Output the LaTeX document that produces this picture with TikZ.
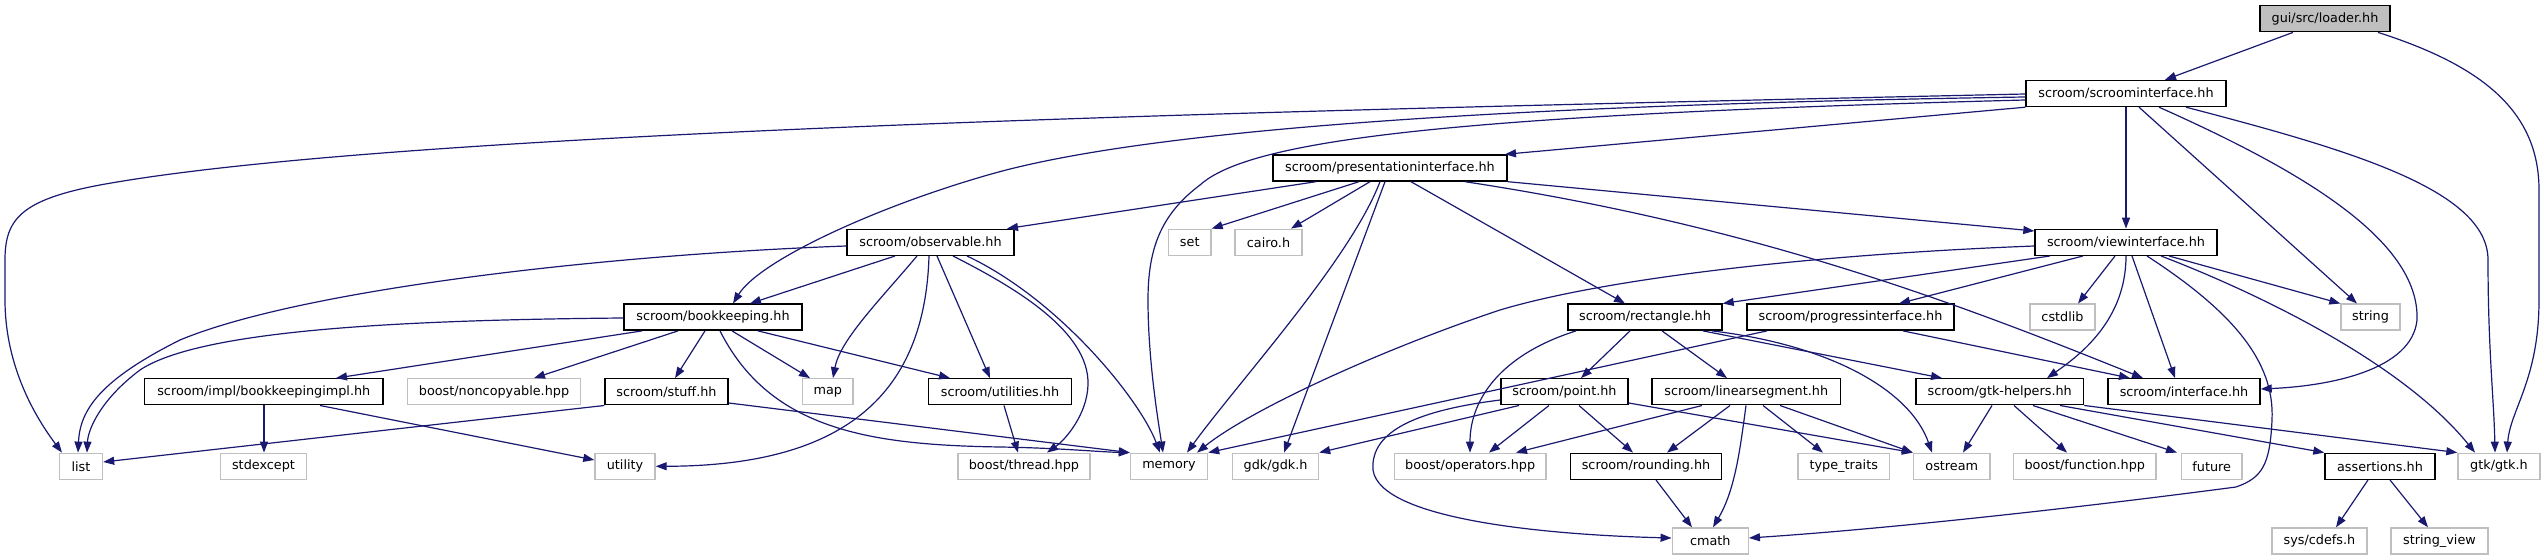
\documentclass[tikz,border=0pt]{standalone}
\usepackage{fontspec}
\setmainfont{DejaVu Sans}
\usetikzlibrary{arrows.meta}
\definecolor{edgeblue}{HTML}{191970}
\definecolor{greyseven}{HTML}{BFBFBF}
\tikzset{
  box/.style={draw=black, line width=0.7pt, rectangle, minimum height=13pt, inner sep=0pt, fill=white, font=\fontsize{6.4pt}{7.5pt}\selectfont},
  sysbox/.style={box, draw=greyseven},
  rootbox/.style={box, fill=greyseven},
  edge/.style={draw=edgeblue, line width=0.6pt, -{Triangle[length=5.5pt,width=4pt]}}
}
\begin{document}
\begin{tikzpicture}[x=0.5pt,y=-0.5pt]
\path[use as bounding box] (0,0) rectangle (2544,560);
% row 0
\node[rootbox, minimum width=65pt] (loader) at (2325,18.7) {gui/src/loader.hh};
% row 1
\node[box, minimum width=100pt] (scroom) at (2126,93.5) {scroom/scroominterface.hh};
% row 2
\node[box, minimum width=117pt] (pres) at (1390,168) {scroom/presentationinterface.hh};
% row 3
\node[box, minimum width=83.5pt] (obs) at (930.5,242.3) {scroom/observable.hh};
\node[sysbox, minimum width=21.25pt] (set) at (1189.75,242.3) {set};
\node[sysbox, minimum width=33.5pt] (cairo) at (1268.5,242.3) {cairo.h};
\node[box, minimum width=91pt] (view) at (2126,242.3) {scroom/viewinterface.hh};
% row 4
\node[box, minimum width=89pt] (bk) at (713,317.2) {scroom/bookkeeping.hh};
\node[box, minimum width=77pt] (rect) at (1645,317.2) {scroom/rectangle.hh};
\node[box, minimum width=103.5pt] (prog) at (1850.5,317.2) {scroom/progressinterface.hh};
\node[sysbox, minimum width=32.5pt] (cstdlib) at (2062.5,317.2) {cstdlib};
\node[sysbox, minimum width=29.5pt] (string) at (2370.5,317.2) {string};
% row 5
\node[box, minimum width=119.2pt] (impl) at (263.8,391.8) {scroom/impl/bookkeepingimpl.hh};
\node[sysbox, minimum width=86.65pt] (noncopy) at (494,391.8) {boost/noncopyable.hpp};
\node[box, minimum width=61.5pt] (stuff) at (666.5,391.8) {scroom/stuff.hh};
\node[sysbox, minimum width=25.25pt] (map) at (827.75,391.8) {map};
\node[box, minimum width=71.5pt] (utilities) at (1000,391.8) {scroom/utilities.hh};
\node[box, minimum width=63.5pt] (point) at (1564.5,391.8) {scroom/point.hh};
\node[box, minimum width=94.25pt] (linseg) at (1746.25,391.8) {scroom/linearsegment.hh};
\node[box, minimum width=83.75pt] (gtkhelp) at (1999.75,391.8) {scroom/gtk-helpers.hh};
\node[box, minimum width=76pt] (iface) at (2184,391.8) {scroom/interface.hh};
% row 6
\node[sysbox, minimum width=21.5pt] (list) at (81,466.3) {list};
\node[sysbox, minimum width=43pt] (stdexcept) at (263.5,466.3) {stdexcept};
\node[sysbox, minimum width=30pt] (utility) at (625,466.3) {utility};
\node[sysbox, minimum width=66.1pt] (thread) at (1023.9,466.3) {boost/thread.hpp};
\node[sysbox, minimum width=38.5pt] (memory) at (1169,466.3) {memory};
\node[sysbox, minimum width=42.9pt] (gdk) at (1275.6,466.3) {gdk/gdk.h};
\node[sysbox, minimum width=75.8pt] (operators) at (1470.2,466.3) {boost/operators.hpp};
\node[box, minimum width=75.5pt] (rounding) at (1646,466.3) {scroom/rounding.hh};
\node[sysbox, minimum width=45.75pt] (tt) at (1843.75,466.3) {type\_traits};
\node[sysbox, minimum width=38.25pt] (ostream) at (1951.75,466.3) {ostream};
\node[sysbox, minimum width=71.2pt] (function) at (2084.8,466.3) {boost/function.hpp};
\node[sysbox, minimum width=30.25pt] (future) at (2211.75,466.3) {future};
\node[box, minimum width=55pt] (assertions) at (2380,466.3) {assertions.hh};
\node[sysbox, minimum width=41pt] (gtk) at (2499,466.3) {gtk/gtk.h};
% row 7
\node[sysbox, minimum width=38pt] (cmath) at (1710.25,541) {cmath};
\node[sysbox, minimum width=47.5pt] (cdefs) at (2319.5,541) {sys/cdefs.h};
\node[sysbox, minimum width=48.5pt] (sv) at (2439.5,541) {string\_view};

% edges from loader
\draw[edge] (loader.south -| 2293,0) -- (scroom.north -| 2165,0);
\draw[edge] (loader.south -| 2378,0) .. controls (2480,65) and (2539,110) .. (2539,190) -- (2539,300) .. controls (2539,380) and (2510,410) .. (gtk.north -| 2507,0);
% edges from scroominterface
\draw[edge] (scroom.west |- 0,94) .. controls (1300,110) and (400,130) .. (100,185) .. controls (20,200) and (5,220) .. (5,260) -- (5,300) .. controls (5,360) and (30,410) .. (list.north -| 62,0);
\draw[edge] (scroom.west |- 0,100) .. controls (1450,115) and (1250,140) .. (1200,185) .. controls (1160,215) and (1148,250) .. (1148,300) .. controls (1148,360) and (1158,420) .. (memory.north -| 1163,0);
\draw[edge] (scroom.west |- 0,97) .. controls (1500,105) and (1150,130) .. (995,173) .. controls (880,205) and (760,260) .. (bk.north -| 733,0);
\draw[edge] (scroom.south west) -- (pres.north -| 1505,0);
\draw[edge] (scroom.south) -- (view.north);
\draw[edge] (scroom.south -| 2139,0) -- (string.north -| 2357,0);
\draw[edge] (scroom.south -| 2159,0) .. controls (2300,170) and (2420,240) .. (2417,320) .. controls (2412,370) and (2330,386) .. (iface.east |- 0,389);
\draw[edge] (scroom.south -| 2186,0) .. controls (2350,150) and (2488,190) .. (2488,260) .. controls (2488,350) and (2494,400) .. (gtk.north -| 2495,0);
% edges from presentationinterface
\draw[edge] (pres.south -| 1316,0) -- (obs.north -| 1007,0);
\draw[edge] (pres.south -| 1359,0) -- (set.north east);
\draw[edge] (pres.south -| 1370,0) -- (cairo.north -| 1291,0);
\draw[edge] (pres.south -| 1385,0) -- (gdk.north -| 1284,0);
\draw[edge] (pres.south -| 1380,0) .. controls (1350,260) and (1240,380) .. (memory.north -| 1187,0);
\draw[edge] (pres.south -| 1411,0) -- (rect.north -| 1625,0);
\draw[edge] (pres.south east) -- (view.west |- 0,231);
\draw[edge] (pres.south -| 1465,0) .. controls (1750,225) and (1950,300) .. (iface.north -| 2143,0);
% edges from observable
\draw[edge] (obs.west |- 0,246) .. controls (600,255) and (300,290) .. (180,340) .. controls (100,380) and (80,410) .. (list.north -| 78,0);
\draw[edge] (obs.south -| 895,0) -- (bk.north -| 750,0);
\draw[edge] (obs.south -| 917,0) .. controls (880,300) and (840,340) .. (map.north -| 833,0);
\draw[edge] (obs.south -| 929,0) .. controls (925,390) and (850,466) .. (utility.east);
\draw[edge] (obs.south -| 937,0) -- (utilities.north -| 990,0);
\draw[edge] (obs.south -| 953,0) .. controls (1010,285) and (1090,330) .. (1088,385) .. controls (1087,415) and (1065,440) .. (thread.north -| 1047,0);
\draw[edge] (obs.south -| 967,0) .. controls (1060,300) and (1140,400) .. (memory.north -| 1160,0);
% edges from bookkeeping
\draw[edge] (bk.west |- 0,318) .. controls (400,320) and (200,330) .. (140,370) .. controls (100,400) and (88,430) .. (list.north -| 87,0);
\draw[edge] (bk.south -| 642,0) -- (impl.north -| 336,0);
\draw[edge] (bk.south -| 678,0) -- (noncopy.north -| 534,0);
\draw[edge] (bk.south -| 705,0) -- (stuff.north -| 675,0);
\draw[edge] (bk.south -| 732,0) -- (map.north -| 810,0);
\draw[edge] (bk.south -| 758,0) -- (utilities.north -| 950,0);
\draw[edge] (bk.south -| 720,0) .. controls (770,430) and (870,445) .. (1000,447) .. controls (1060,448) and (1100,452) .. (memory.north west);
% impl, stuff, utilities
\draw[edge] (impl.south -| 264,0) -- (stdexcept.north -| 264,0);
\draw[edge] (impl.south -| 320,0) -- (utility.west |- 0,460);
\draw[edge] (stuff.south west) -- (list.east |- 0,462);
\draw[edge] (stuff.east |- 0,403) -- (memory.north west);
\draw[edge] (utilities.south -| 1004,0) -- (thread.north -| 1018,0);
% edges from viewinterface
\draw[edge] (view.west |- 0,246) .. controls (1800,255) and (1600,280) .. (1500,310) .. controls (1380,350) and (1250,410) .. (memory.north -| 1197,0);
\draw[edge] (view.south -| 2050,0) -- (rect.north east);
\draw[edge] (view.south -| 2083,0) -- (prog.north -| 1899,0);
\draw[edge] (view.south -| 2115,0) -- (cstdlib.north -| 2078,0);
\draw[edge] (view.south -| 2126,0) .. controls (2126,320) and (2080,355) .. (gtkhelp.north -| 2047,0);
\draw[edge] (view.south -| 2132,0) -- (iface.north -| 2175,0);
\draw[edge] (view.south -| 2147,0) .. controls (2230,310) and (2275,360) .. (2272,420) .. controls (2270,465) and (2262,478) .. (2236,487) .. controls (2100,505) and (1900,528) .. (cmath.east |- 0,538);
\draw[edge] (view.south -| 2161,0) .. controls (2250,290) and (2400,360) .. (gtk.north -| 2475,0);
\draw[edge] (view.south -| 2169,0) -- (string.north west);
% edges from rectangle and progressinterface
\draw[edge] (rect.south -| 1576,0) .. controls (1500,355) and (1470,400) .. (operators.north -| 1470,0);
\draw[edge] (rect.south -| 1630,0) -- (point.north -| 1581,0);
\draw[edge] (rect.south -| 1662,0) -- (linseg.north -| 1727,0);
\draw[edge] (rect.south -| 1703,0) -- (gtkhelp.north -| 1942,0);
\draw[edge] (rect.south -| 1712,0) .. controls (1830,345) and (1910,390) .. (ostream.north -| 1932,0);
\draw[edge] (prog.south -| 1767,0) -- (memory.north east);
\draw[edge] (prog.south -| 1903,0) -- (iface.north -| 2130,0);
% edges from point
\draw[edge] (point.south -| 1519,0) -- (gdk.north east);
\draw[edge] (point.south -| 1549,0) -- (operators.north -| 1489,0);
\draw[edge] (point.south -| 1579,0) -- (rounding.north -| 1633,0);
\draw[edge] (point.west |- 0,400) .. controls (1420,410) and (1370,430) .. (1373,470) .. controls (1380,520) and (1550,535) .. (cmath.west |- 0,538);
\draw[edge] (point.east |- 0,403) -- (ostream.north west);
% edges from linearsegment
\draw[edge] (linseg.south -| 1702,0) -- (operators.north -| 1516,0);
\draw[edge] (linseg.south -| 1730,0) -- (rounding.north -| 1667,0);
\draw[edge] (linseg.south -| 1746,0) .. controls (1740,450) and (1735,490) .. (cmath.north -| 1713,0);
\draw[edge] (linseg.south -| 1763,0) -- (tt.north -| 1823,0);
\draw[edge] (linseg.south -| 1780,0) -- (ostream.north west);
% edges from gtk-helpers
\draw[edge] (gtkhelp.south -| 1992,0) -- (ostream.north -| 1963,0);
\draw[edge] (gtkhelp.south -| 2014,0) -- (function.north -| 2067,0);
\draw[edge] (gtkhelp.south -| 2033,0) -- (future.north -| 2177,0);
\draw[edge] (gtkhelp.south -| 2060,0) -- (assertions.north west);
\draw[edge] (gtkhelp.south east) -- (gtk.north west);
% rounding, assertions
\draw[edge] (rounding.south -| 1656,0) -- (cmath.north -| 1692,0);
\draw[edge] (assertions.south -| 2368,0) -- (cdefs.north -| 2336,0);
\draw[edge] (assertions.south -| 2390,0) -- (sv.north -| 2428,0);
\end{tikzpicture}
\end{document}
